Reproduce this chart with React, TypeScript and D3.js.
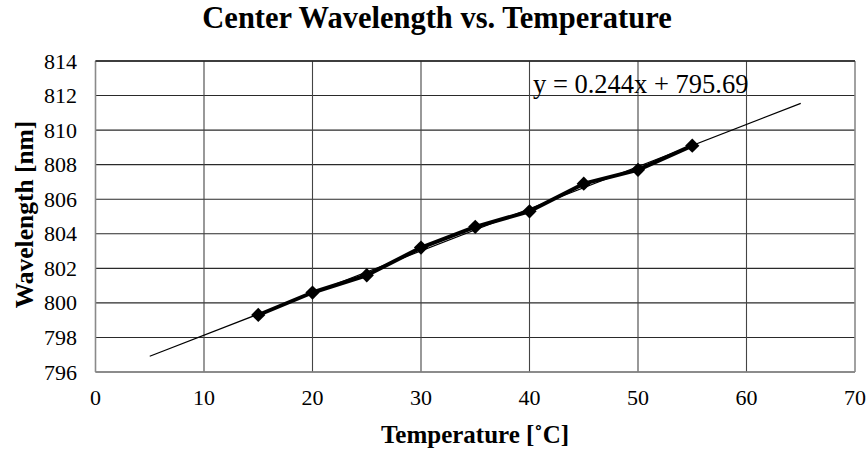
import React from "react";
import * as d3 from "d3";

const temperatures = [15, 20, 25, 30, 35, 40, 45, 50, 55];
const wavelengths = [799.3, 800.6, 801.6, 803.2, 804.4, 805.3, 806.9, 807.7, 809.1];
const xTicks = [0, 10, 20, 30, 40, 50, 60, 70];
const yTicks = [796, 798, 800, 802, 804, 806, 808, 810, 812, 814];
const trendSlope = 0.244;
const trendIntercept = 795.69;
const trendRange = [5, 65];
const titleText = "Center Wavelength vs. Temperature";
const xLabel = "Temperature [˚C]";
const yLabel = "Wavelength [nm]";
const equationText = "y = 0.244x + 795.69";

const W = 868;
const H = 453;
const left = 95.5;
const right = 855;
const top = 61;
const bottom = 372;
const FONT = "'Liberation Serif', 'Times New Roman', serif";

export default function App() {
  const x = d3.scaleLinear().domain([0, 70]).range([left, right]);
  const y = d3.scaleLinear().domain([796, 814]).range([bottom, top]);
  const pts = temperatures.map((t, i) => [t, wavelengths[i]] as [number, number]);
  const line = d3
    .line<[number, number]>()
    .x((d) => x(d[0]))
    .y((d) => y(d[1]));
  const trend = trendRange.map((t) => [t, trendSlope * t + trendIntercept] as [number, number]);
  const diamond = d3.symbol().type(d3.symbolDiamond2).size(130)();

  return (
    <svg
      width={W}
      height={H}
      style={{ position: "absolute", left: 0, top: 0, background: "#fff" }}
      fontFamily={FONT}
    >
      <rect x={0} y={0} width={W} height={H} fill="#fff" />
      {/* grid */}
      {yTicks.map((v) => (
        <line key={"gy" + v} x1={left} x2={right} y1={y(v)} y2={y(v)} stroke="#2a2a2a" strokeWidth={1.1} />
      ))}
      {xTicks.slice(1, -1).map((v) => (
        <line key={"gx" + v} x1={x(v)} x2={x(v)} y1={top} y2={bottom} stroke="#444" strokeWidth={1.1} />
      ))}
      {/* border */}
      <line x1={left} x2={left} y1={top} y2={bottom} stroke="#8a8a8a" strokeWidth={1.6} />
      <line x1={right} x2={right} y1={top} y2={bottom} stroke="#8a8a8a" strokeWidth={1.6} />
      <line x1={left} x2={right} y1={bottom} y2={bottom} stroke="#8a8a8a" strokeWidth={1.6} />
      <line x1={left} x2={right} y1={top} y2={top} stroke="#222" strokeWidth={1.4} />
      {/* tick labels */}
      {yTicks.map((v) => (
        <text key={"ty" + v} x={77} y={y(v) + 7.5} textAnchor="end" fontSize={22} fill="#000">
          {v}
        </text>
      ))}
      {xTicks.map((v) => (
        <text key={"tx" + v} x={x(v)} y={405} textAnchor="middle" fontSize={22} fill="#000">
          {v}
        </text>
      ))}
      {/* trendline */}
      <path d={line(trend) || ""} fill="none" stroke="#000" strokeWidth={1.2} />
      {/* data */}
      <path d={line(pts) || ""} fill="none" stroke="#000" strokeWidth={4} strokeLinejoin="round" />
      {pts.map((p, i) => (
        <path key={"m" + i} d={diamond || ""} transform={`translate(${x(p[0])},${y(p[1])})`} fill="#000" />
      ))}
      {/* equation */}
      <text x={533} y={93} fontSize={26.5} fill="#000">
        {equationText}
      </text>
      {/* title */}
      <text x={437} y={28} textAnchor="middle" fontSize={30.5} fontWeight="bold" fill="#000">
        {titleText}
      </text>
      {/* axis titles */}
      <text x={475} y={443} textAnchor="middle" fontSize={25} fontWeight="bold" fill="#000">
        {xLabel}
      </text>
      <text
        transform={`translate(33,214.5) rotate(-90)`}
        textAnchor="middle"
        fontSize={25.5}
        fontWeight="bold"
        fill="#000"
      >
        {yLabel}
      </text>
    </svg>
  );
}
